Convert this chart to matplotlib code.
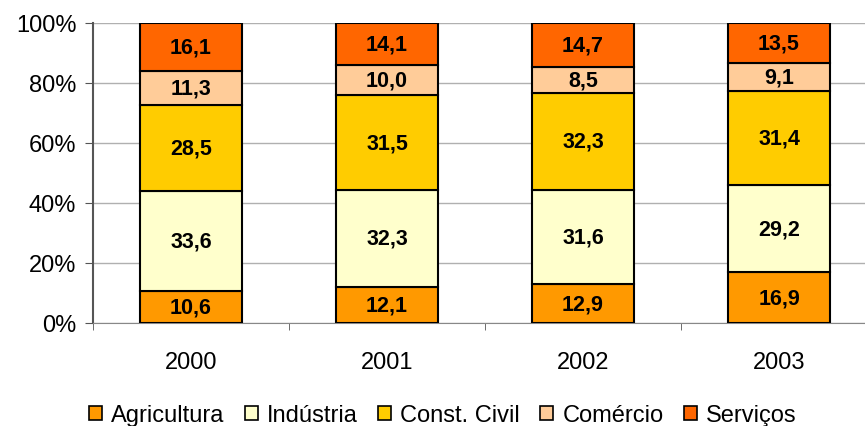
import matplotlib.pyplot as plt
import numpy as np

anos = ['2000', '2001', '2002', '2003']
setores = ['Agricultura', 'Indústria', 'Const. Civil', 'Comércio', 'Serviços']
agricultura = [10.6, 12.1, 12.9, 16.9]
industria = [33.6, 32.3, 31.6, 29.2]
const_civil = [28.5, 31.5, 32.3, 31.4]
comercio = [11.3, 10.0, 8.5, 9.1]
servicos = [16.1, 14.1, 14.7, 13.5]
cores = ['#FF9900', '#FFFFCC', '#FFCC00', '#FFCC99', '#FF6600']

plt.rcParams['font.family'] = ['Liberation Sans', 'DejaVu Sans']

dados = np.array([agricultura, industria, const_civil, comercio, servicos])
pct = dados / dados.sum(axis=0) * 100

fig = plt.figure(figsize=(8.65, 4.27), dpi=100)
ax = fig.add_axes([93 / 865, 1 - 324 / 427, 784 / 865, 300 / 427])

x = np.arange(len(anos))
base = np.zeros(len(anos))
for i, nome in enumerate(setores):
    ax.bar(x, pct[i], 0.525, bottom=base, color=cores[i], edgecolor='black',
           linewidth=1.5, label=nome, zorder=3)
    for j in range(len(anos)):
        ax.text(x[j], base[j] + pct[i][j] / 2, f'{dados[i][j]:.1f}'.replace('.', ','),
                ha='center', va='center', fontsize=15.5, fontweight='bold', zorder=4)
    base += pct[i]

ax.set_xlim(-0.5, len(anos) - 0.5)
ax.set_ylim(0, 100)
ax.set_yticks(range(0, 101, 20))
ax.set_yticklabels([f'{v}%' for v in range(0, 101, 20)], fontsize=17)
ax.set_xticks(x)
ax.set_xticklabels(anos, fontsize=17)
ax.set_xticks(np.arange(-0.5, len(anos)), minor=True)
ax.tick_params(axis='x', which='major', length=0, pad=20)
ax.tick_params(axis='x', which='minor', length=5, color='#555555')
ax.tick_params(axis='y', length=6, color='#555555', pad=6)
ax.grid(axis='y', color='#b0b0b0', linewidth=1, zorder=0)
ax.spines['top'].set_visible(False)
ax.spines['right'].set_visible(False)
ax.spines['left'].set_color('#555555')
ax.spines['left'].set_linewidth(1.5)
ax.spines['bottom'].set_color('#888888')

leg = fig.legend(loc='lower center', bbox_to_anchor=(0.512, -0.05), ncol=5, frameon=False,
                 fontsize=17, handlelength=0.55, handleheight=0.55, handletextpad=0.4,
                 columnspacing=0.85)
for h in leg.legend_handles:
    h.set_linewidth(1.2)

fig.savefig('out.png', dpi=100)
